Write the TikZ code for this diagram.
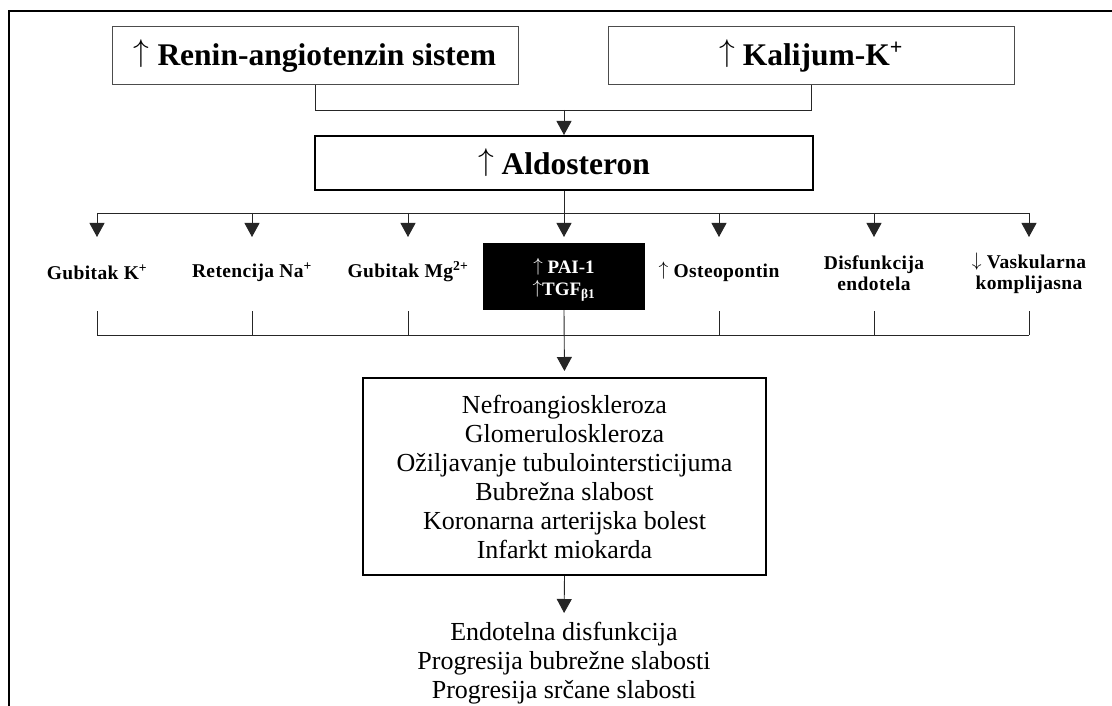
\RequirePackage{fix-cm}
\documentclass[tikz,border=0pt]{standalone}
\usepackage{fontspec}
\setmainfont{Liberation Serif}
\newfontfamily\lblfont[LetterSpace=2]{Liberation Serif}
\usetikzlibrary{arrows.meta}
\newcommand{\uarr}{\raisebox{0.12em}{$\uparrow$}}
\newcommand{\darr}{\raisebox{0.12em}{$\downarrow$}}
\begin{document}
\begin{tikzpicture}[x=1pt,y=-1pt,
  conn/.style={draw=black!85,line width=0.9pt},
  arr/.style={conn,-{Triangle[width=15pt,length=14pt]}},
  topbox/.style={draw=black!70,line width=1pt,minimum width=406pt,minimum height=58pt,inner sep=0pt,
    font=\bfseries\fontsize{31.5}{36}\selectfont},
  aldbox/.style={draw=black,line width=2pt,minimum width=498pt,minimum height=54pt,inner sep=0pt,
    font=\bfseries\fontsize{31.5}{36}\selectfont},
  lbl/.style={inner sep=0pt,align=center,font=\lblfont\bfseries\fontsize{19.5}{21}\selectfont},
  blackbox/.style={fill=black,text=white,minimum width=162pt,minimum height=67pt,inner sep=0pt,align=center,
    font=\bfseries\fontsize{19}{22}\selectfont},
  resbox/.style={draw=black,line width=2pt,minimum width=403pt,minimum height=197pt,inner sep=0pt,align=center,
    font=\fontsize{26}{29}\selectfont},
  outtext/.style={inner sep=0pt,align=center,font=\fontsize{26}{29}\selectfont}
]
\useasboundingbox (0,0) rectangle (1112,706);
% outer frame
\draw[line width=2pt] (8.5,706) -- (8.5,11) -- (1112,11);

% top boxes
\node[topbox] (ras) at (315,56) {\uarr\ Renin-angiotenzin sistem};
\node[topbox] (kal) at (811,56) {\uarr\ Kalijum-K\textsuperscript{+}};
\node[aldbox] (ald) at (564,163) {\uarr\ Aldosteron};
\coordinate (j1) at (564,110);
\draw[conn] (ras.south) -- (ras.south |- j1) -- (kal.south |- j1) -- (kal.south);
\draw[arr] (j1) -- (ald.north);

% branch
\coordinate (br) at (564,213);
\coordinate (tip) at (564,237);
\coordinate (bot) at (564,311);
\coordinate (col) at (564,335);

\node[lbl] (l1) at (97,272) {Gubitak K\textsuperscript{+}};
\node[lbl] (l2) at (252,272) {Retencija Na\textsuperscript{+}};
\node[lbl] (l3) at (408,272) {Gubitak Mg\textsuperscript{2+}};
\node[blackbox] (pai) at (564,276.5) {\rule{0pt}{21.5pt}\uarr\ PAI-1\\\uarr TGF\textsubscript{β1}};
\node[lbl] (l5) at (719,272) {\uarr\ Osteopontin};
\node[lbl] (l6) at (874,273) {Disfunkcija\\endotela};
\node[lbl] (l7) at (1029,273) {\darr\ Vaskularna\\komplijasna};

\draw[conn] (ald.south) -- (br);
\draw[conn] (l1 |- br) -- (l7 |- br);
\foreach \n in {l1,l2,l3,pai,l5,l6,l7}{
  \draw[arr] (\n |- br) -- (\n |- tip);
}
\foreach \n in {l1,l2,l3,l5,l6,l7}{
  \draw[conn] (\n |- bot) -- (\n |- col);
}
\draw[conn] (l1 |- col) -- (l7 |- col);

% results
\node[resbox] (res) at (564.5,476.5) {Nefroangioskleroza\\Glomeruloskleroza\\Ožiljavanje tubulointersticijuma\\Bubrežna slabost\\Koronarna arterijska bolest\\Infarkt miokarda};
\draw[arr,shorten >=6pt] (pai.south) -- (res.north);

\node[outtext,anchor=north] (out) at (564,622) {Endotelna disfunkcija\\Progresija bubrežne slabosti\\Progresija srčane slabosti};
\draw[arr,shorten >=9pt] (res.south) -- (out.north);
\end{tikzpicture}
\end{document}
